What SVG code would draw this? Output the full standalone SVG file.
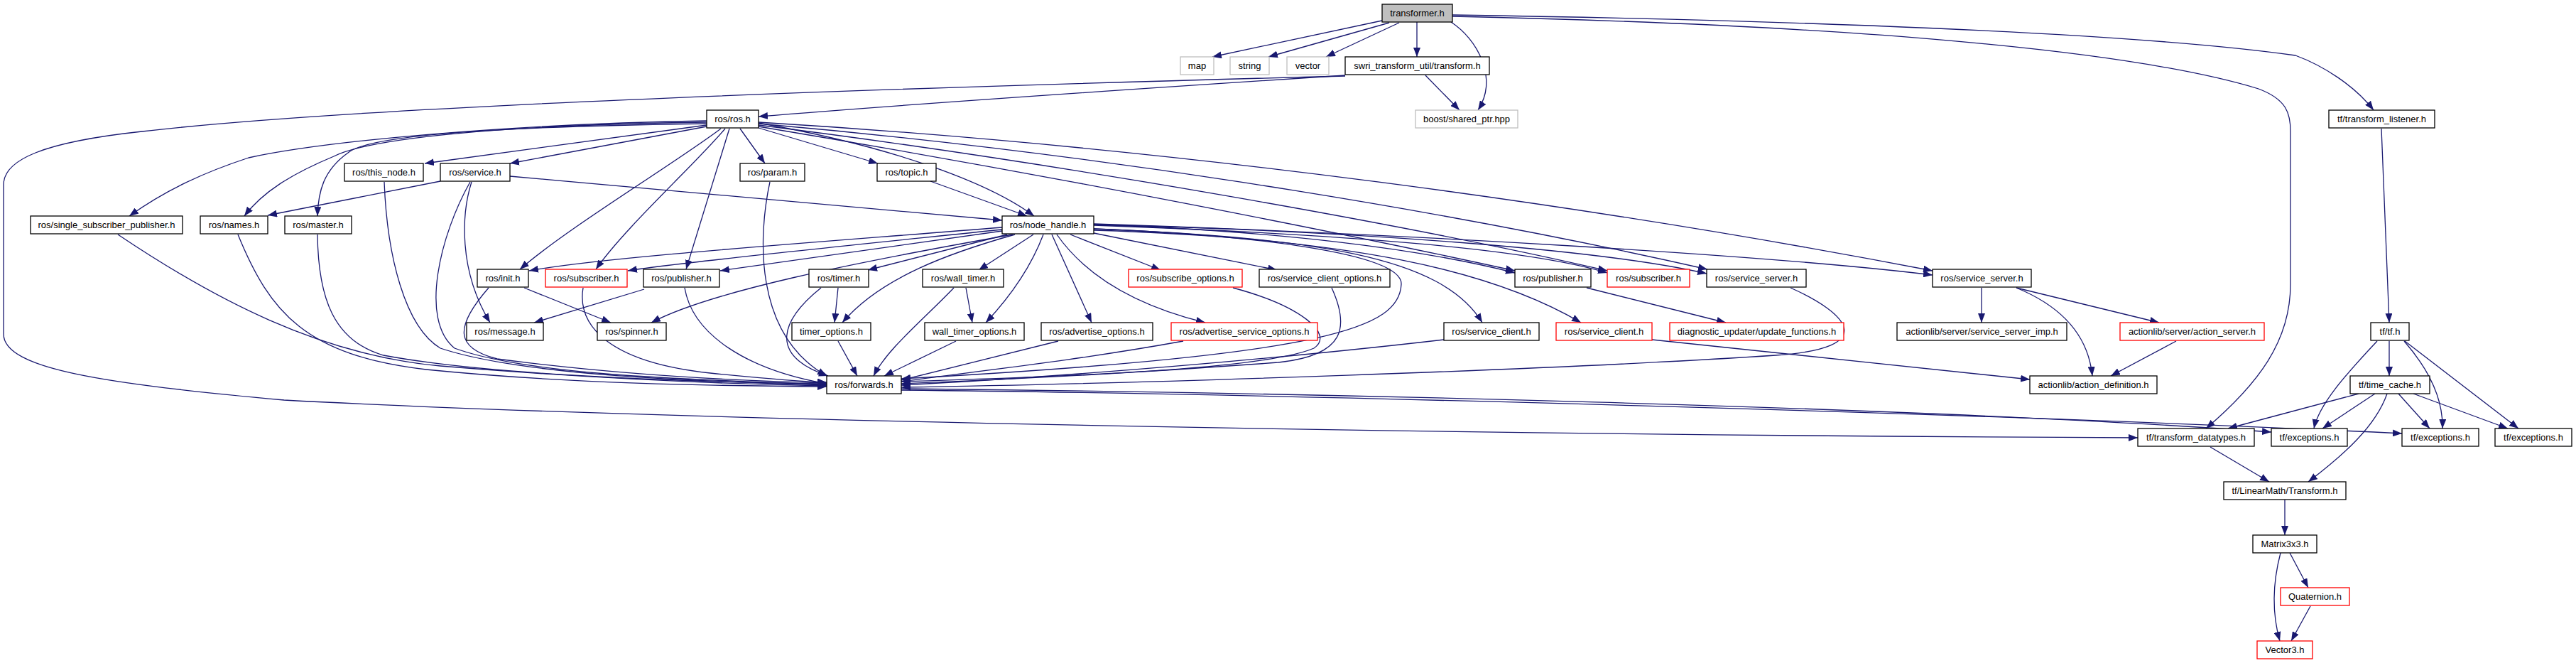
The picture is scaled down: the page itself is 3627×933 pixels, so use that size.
<svg xmlns="http://www.w3.org/2000/svg" width="3627" height="933" viewBox="0 0 3627 933">
<style>
.n rect{fill:#fff;stroke:#000;stroke-width:1.3}
.g rect{stroke:#bfbfbf}
.r rect{stroke:#ff0000}
.root rect{fill:#bfbfbf}
text{font-family:"Liberation Sans",Arial,sans-serif;font-size:13px;text-anchor:middle;fill:#000}
.e path{fill:none;stroke:#191970;stroke-width:1.3;marker-end:url(#a)}
</style>
<defs>
<marker id="a" markerUnits="userSpaceOnUse" markerWidth="13" markerHeight="10" refX="13" refY="5" orient="auto"><path d="M0,0 L13,5 L0,10 z" fill="#191970"/></marker>
</defs>
<rect width="3627" height="933" fill="#fff"/>
<g id="edges" class="e">
<path d="M1946,29 L1707,80"/>
<path d="M1956,32 L1786,80"/>
<path d="M1970,32 L1867,80"/>
<path d="M1995,31 L1995,80"/>
<path d="M2043,31 C2080,55 2110,110 2081,155"/>
<path d="M2007,106 L2055,155"/>
<path d="M2045,21 C2500,28 3000,45 3232,78 C3270,92 3315,120 3342,155"/>
<path d="M2045,23 C2600,35 3000,70 3180,125 C3220,140 3225,160 3225,185 L3225,400 C3225,480 3180,540 3106,603"/>
<path d="M1894,106 C1600,125 1300,145 1068,164"/>
<path d="M1894,107 C1200,125 500,150 200,185 C60,200 5,225 5,260 L5,470 C5,520 150,540 400,563 C900,590 2000,612 3010,616"/>
<path d="M995,170 C700,175 450,200 350,222 C280,245 230,270 182,304"/>
<path d="M995,172 C700,176 520,195 470,220 C410,245 370,270 344,304"/>
<path d="M995,174 C700,178 520,190 490,215 C455,240 448,270 447,304"/>
<path d="M995,176 L598,230"/>
<path d="M995,178 L718,230"/>
<path d="M1015,181 C950,230 800,320 732,379"/>
<path d="M1021,181 C980,230 880,320 839,379"/>
<path d="M1027,181 L966,379"/>
<path d="M1042,181 L1077,230"/>
<path d="M1068,180 L1236,230"/>
<path d="M1068,173 C1250,205 1390,255 1456,304"/>
<path d="M1068,178 C1500,250 1900,330 2133,381"/>
<path d="M1068,176 C1500,230 2000,320 2263,381"/>
<path d="M1068,174 C1600,220 2100,310 2404,379"/>
<path d="M1068,172 C1700,210 2300,300 2721,381"/>
<path d="M620,255 L377,303"/>
<path d="M718,248 L1411,310"/>
<path d="M664,256 C650,300 645,380 690,454"/>
<path d="M662,256 C620,330 590,450 640,490 C750,530 1000,535 1164,541"/>
<path d="M541,256 C545,360 570,460 620,490 C740,530 1000,537 1164,542"/>
<path d="M166,330 C300,420 450,500 620,515 C800,530 1000,540 1164,543"/>
<path d="M335,330 C380,440 430,500 600,520 C800,540 1000,543 1164,544"/>
<path d="M447,330 C448,420 470,480 540,500 C700,530 1000,538 1164,540"/>
<path d="M688,405 C640,460 640,490 700,505 C850,525 1000,535 1164,539"/>
<path d="M738,405 L860,454"/>
<path d="M821,405 C812,460 860,510 1000,525 C1080,533 1130,537 1164,538"/>
<path d="M907,407 L752,454"/>
<path d="M964,405 C975,470 1050,520 1164,540"/>
<path d="M1084,256 C1068,330 1060,470 1164,529"/>
<path d="M1310,255 L1446,304"/>
<path d="M1411,320 C1100,345 850,362 745,381"/>
<path d="M1411,323 C1200,345 950,370 884,381"/>
<path d="M1411,325 L1014,381"/>
<path d="M1426,330 C1200,370 1000,410 917,454"/>
<path d="M1418,330 L1222,380"/>
<path d="M1429,330 C1340,355 1240,390 1186,454"/>
<path d="M1455,330 L1378,380"/>
<path d="M1469,330 C1450,380 1420,420 1388,454"/>
<path d="M1481,330 L1537,454"/>
<path d="M1488,330 C1530,390 1600,430 1697,454"/>
<path d="M1507,330 L1634,380"/>
<path d="M1540,328 L1798,380"/>
<path d="M1540,322 C1750,330 1975,355 1973,400 C1970,460 1880,500 1269,533"/>
<path d="M1736,405 C1830,430 1880,470 1850,490 C1780,520 1500,530 1269,537"/>
<path d="M1875,405 C1900,460 1895,500 1800,510 C1600,525 1400,535 1269,540"/>
<path d="M1490,480 L1269,535"/>
<path d="M1666,480 C1500,510 1350,525 1269,537"/>
<path d="M1156,405 C1100,450 1080,500 1166,529"/>
<path d="M1180,405 L1175,454"/>
<path d="M1180,480 L1207,529"/>
<path d="M1360,405 L1369,454"/>
<path d="M1343,405 C1300,450 1250,490 1230,529"/>
<path d="M1346,480 L1245,529"/>
<path d="M1540,316 C1800,325 2000,350 2133,384"/>
<path d="M1540,317 C1900,330 2150,350 2263,384"/>
<path d="M1540,316 C1900,325 2250,350 2403,385"/>
<path d="M1540,315 C2000,330 2500,360 2721,387"/>
<path d="M1540,322 C1850,335 2030,360 2087,454"/>
<path d="M1540,324 C1900,335 2100,380 2226,454"/>
<path d="M2033,478 C1800,505 1500,530 1269,542"/>
<path d="M2521,405 C2600,440 2650,490 2500,500 C2200,520 1600,540 1269,545"/>
<path d="M2234,405 L2430,454"/>
<path d="M2326,478 L2858,534"/>
<path d="M1269,547 C1800,552 2700,572 3198,608"/>
<path d="M1269,549 C1800,554 2800,582 3382,610"/>
<path d="M2790,405 L2790,454"/>
<path d="M2839,405 C2900,430 2940,470 2946,529"/>
<path d="M2839,405 L3040,454"/>
<path d="M3064,480 L2972,529"/>
<path d="M3353,181 L3364,454"/>
<path d="M3364,480 L3364,529"/>
<path d="M3347,480 C3300,530 3265,570 3258,603"/>
<path d="M3385,480 C3420,520 3440,560 3439,603"/>
<path d="M3386,480 L3546,603"/>
<path d="M3321,554 L3137,603"/>
<path d="M3344,554 L3270,603"/>
<path d="M3377,554 L3421,603"/>
<path d="M3398,554 L3531,603"/>
<path d="M3361,554 C3345,600 3300,640 3250,678"/>
<path d="M3112,629 L3195,678"/>
<path d="M3217,703 L3217,753"/>
<path d="M3224,778 L3250,827"/>
<path d="M3211,778 C3200,820 3198,860 3210,902"/>
<path d="M3253,853 L3226,902"/>
</g>
<g id="n_transformer" class="n root"><rect x="1946" y="6" width="99" height="25"/><text x="1995.5" y="23">transformer.h</text></g>
<g id="n_map" class="n g"><rect x="1662" y="80" width="47" height="25"/><text x="1685.5" y="97">map</text></g>
<g id="n_string" class="n g"><rect x="1732" y="80" width="55" height="25"/><text x="1759.5" y="97">string</text></g>
<g id="n_vector" class="n g"><rect x="1812" y="80" width="59" height="25"/><text x="1841.5" y="97">vector</text></g>
<g id="n_swri" class="n"><rect x="1894" y="80" width="203" height="25"/><text x="1995.5" y="97">swri_transform_util/transform.h</text></g>
<g id="n_boost" class="n g"><rect x="1993" y="155" width="144" height="25"/><text x="2065" y="172">boost/shared_ptr.hpp</text></g>
<g id="n_ros" class="n"><rect x="995" y="155" width="73" height="25"/><text x="1031.5" y="172">ros/ros.h</text></g>
<g id="n_tflistener" class="n"><rect x="3279" y="155" width="149" height="25"/><text x="3353.5" y="172">tf/transform_listener.h</text></g>
<g id="n_thisnode" class="n"><rect x="485" y="230" width="111" height="25"/><text x="540.5" y="247">ros/this_node.h</text></g>
<g id="n_service" class="n"><rect x="620" y="230" width="98" height="25"/><text x="669" y="247">ros/service.h</text></g>
<g id="n_param" class="n"><rect x="1042" y="230" width="91" height="25"/><text x="1087.5" y="247">ros/param.h</text></g>
<g id="n_topic" class="n"><rect x="1235" y="230" width="83" height="25"/><text x="1276.5" y="247">ros/topic.h</text></g>
<g id="n_ssp" class="n"><rect x="43" y="304" width="214" height="25"/><text x="150" y="321">ros/single_subscriber_publisher.h</text></g>
<g id="n_names" class="n"><rect x="282" y="304" width="95" height="25"/><text x="329.5" y="321">ros/names.h</text></g>
<g id="n_master" class="n"><rect x="401" y="304" width="94" height="25"/><text x="448" y="321">ros/master.h</text></g>
<g id="n_nodehandle" class="n"><rect x="1411" y="304" width="129" height="25"/><text x="1475.5" y="321">ros/node_handle.h</text></g>
<g id="n_init" class="n"><rect x="672" y="379" width="72" height="25"/><text x="708" y="396">ros/init.h</text></g>
<g id="n_subscriber1" class="n r"><rect x="768" y="379" width="115" height="25"/><text x="825.5" y="396">ros/subscriber.h</text></g>
<g id="n_publisher1" class="n"><rect x="906" y="379" width="107" height="25"/><text x="959.5" y="396">ros/publisher.h</text></g>
<g id="n_timer" class="n"><rect x="1139" y="379" width="84" height="25"/><text x="1181" y="396">ros/timer.h</text></g>
<g id="n_walltimer" class="n"><rect x="1299" y="379" width="114" height="25"/><text x="1356" y="396">ros/wall_timer.h</text></g>
<g id="n_subopts" class="n r"><rect x="1589" y="379" width="160" height="25"/><text x="1669" y="396">ros/subscribe_options.h</text></g>
<g id="n_scopts" class="n"><rect x="1773" y="379" width="184" height="25"/><text x="1865" y="396">ros/service_client_options.h</text></g>
<g id="n_publisher2" class="n"><rect x="2133" y="379" width="107" height="25"/><text x="2186.5" y="396">ros/publisher.h</text></g>
<g id="n_subscriber2" class="n r"><rect x="2263" y="379" width="116" height="25"/><text x="2321" y="396">ros/subscriber.h</text></g>
<g id="n_srvserver1" class="n"><rect x="2403" y="379" width="140" height="25"/><text x="2473" y="396">ros/service_server.h</text></g>
<g id="n_srvserver2" class="n"><rect x="2721" y="379" width="139" height="25"/><text x="2790.5" y="396">ros/service_server.h</text></g>
<g id="n_message" class="n"><rect x="657" y="454" width="108" height="25"/><text x="711" y="471">ros/message.h</text></g>
<g id="n_spinner" class="n"><rect x="841" y="454" width="97" height="25"/><text x="889.5" y="471">ros/spinner.h</text></g>
<g id="n_timeropts" class="n"><rect x="1115" y="454" width="111" height="25"/><text x="1170.5" y="471">timer_options.h</text></g>
<g id="n_walltimeropts" class="n"><rect x="1302" y="454" width="140" height="25"/><text x="1372" y="471">wall_timer_options.h</text></g>
<g id="n_advopts" class="n"><rect x="1466" y="454" width="157" height="25"/><text x="1544.5" y="471">ros/advertise_options.h</text></g>
<g id="n_advsrvopts" class="n r"><rect x="1649" y="454" width="206" height="25"/><text x="1752" y="471">ros/advertise_service_options.h</text></g>
<g id="n_srvclient1" class="n"><rect x="2033" y="454" width="134" height="25"/><text x="2100" y="471">ros/service_client.h</text></g>
<g id="n_srvclient2" class="n r"><rect x="2191" y="454" width="135" height="25"/><text x="2258.5" y="471">ros/service_client.h</text></g>
<g id="n_diag" class="n r"><rect x="2351" y="454" width="245" height="25"/><text x="2473.5" y="471">diagnostic_updater/update_functions.h</text></g>
<g id="n_ssimp" class="n"><rect x="2671" y="454" width="239" height="25"/><text x="2790.5" y="471">actionlib/server/service_server_imp.h</text></g>
<g id="n_actserver" class="n r"><rect x="2985" y="454" width="203" height="25"/><text x="3086.5" y="471">actionlib/server/action_server.h</text></g>
<g id="n_tf" class="n"><rect x="3338" y="454" width="54" height="25"/><text x="3365" y="471">tf/tf.h</text></g>
<g id="n_forwards" class="n"><rect x="1164" y="529" width="105" height="25"/><text x="1216.5" y="546">ros/forwards.h</text></g>
<g id="n_actdef" class="n"><rect x="2858" y="529" width="179" height="25"/><text x="2947.5" y="546">actionlib/action_definition.h</text></g>
<g id="n_timecache" class="n"><rect x="3309" y="529" width="112" height="25"/><text x="3365" y="546">tf/time_cache.h</text></g>
<g id="n_tfdatatypes" class="n"><rect x="3010" y="603" width="164" height="25"/><text x="3092" y="620">tf/transform_datatypes.h</text></g>
<g id="n_exc1" class="n"><rect x="3198" y="603" width="107" height="25"/><text x="3251.5" y="620">tf/exceptions.h</text></g>
<g id="n_exc2" class="n"><rect x="3382" y="603" width="108" height="25"/><text x="3436" y="620">tf/exceptions.h</text></g>
<g id="n_exc3" class="n"><rect x="3513" y="603" width="108" height="25"/><text x="3567" y="620">tf/exceptions.h</text></g>
<g id="n_lmtransform" class="n"><rect x="3131" y="678" width="172" height="25"/><text x="3217" y="695">tf/LinearMath/Transform.h</text></g>
<g id="n_matrix" class="n"><rect x="3172" y="753" width="90" height="25"/><text x="3217" y="770">Matrix3x3.h</text></g>
<g id="n_quat" class="n r"><rect x="3211" y="827" width="97" height="25"/><text x="3259.5" y="844">Quaternion.h</text></g>
<g id="n_vector3" class="n r"><rect x="3178" y="902" width="78" height="25"/><text x="3217" y="919">Vector3.h</text></g>
</svg>
